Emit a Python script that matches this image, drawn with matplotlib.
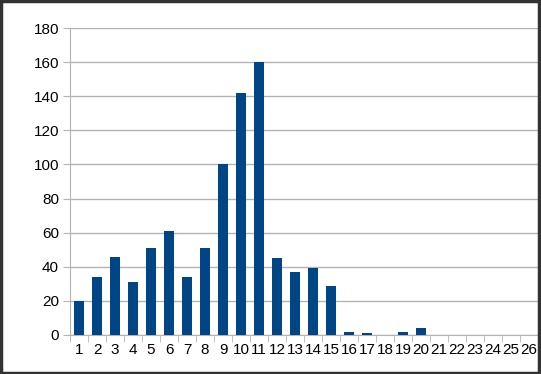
import matplotlib
matplotlib.use('Agg')
import matplotlib.pyplot as plt
from matplotlib.patches import Rectangle

categories = [str(i) for i in range(1, 27)]
values = [20, 34, 46, 31, 51, 61, 34, 51, 100, 142, 160, 45, 37, 39, 29,
          2, 1, 0, 2, 4, 0, 0, 0, 0, 0, 0]
yticks = [0, 20, 40, 60, 80, 100, 120, 140, 160, 180]

plt.rcParams['font.family'] = ['Liberation Sans', 'DejaVu Sans']

fig = plt.figure(figsize=(5.41, 3.74), dpi=100)
ax = fig.add_axes([70/541, 1 - 335/374, 468/541, 307/374])

x = list(range(len(categories)))
ax.bar(x, values, width=0.56, color='#004586', zorder=3)

ax.set_xlim(-0.5, len(categories) - 0.5)
ax.set_ylim(0, 180)
ax.set_yticks(yticks)
ax.set_xticks(x)
ax.set_xticklabels(categories)
ax.set_xticks([i - 0.5 for i in range(len(categories) + 1)], minor=True)
ax.yaxis.grid(True, color='#b3b3b3', linewidth=1, zorder=0)

for s in ['top', 'right']:
    ax.spines[s].set_visible(False)
for s in ['left', 'bottom']:
    ax.spines[s].set_color('#b3b3b3')
ax.tick_params(axis='x', which='major', length=0, labelsize=11, pad=6)
ax.tick_params(axis='x', which='minor', length=5, color='#b3b3b3')
ax.tick_params(axis='y', length=5, color='#b3b3b3', labelsize=11, pad=3)

fig.patches.append(Rectangle((0.002, 0.003), 0.995, 0.993, transform=fig.transFigure,
                             fill=False, edgecolor='#333333', linewidth=2.5))

fig.savefig('out.png', dpi=100)
